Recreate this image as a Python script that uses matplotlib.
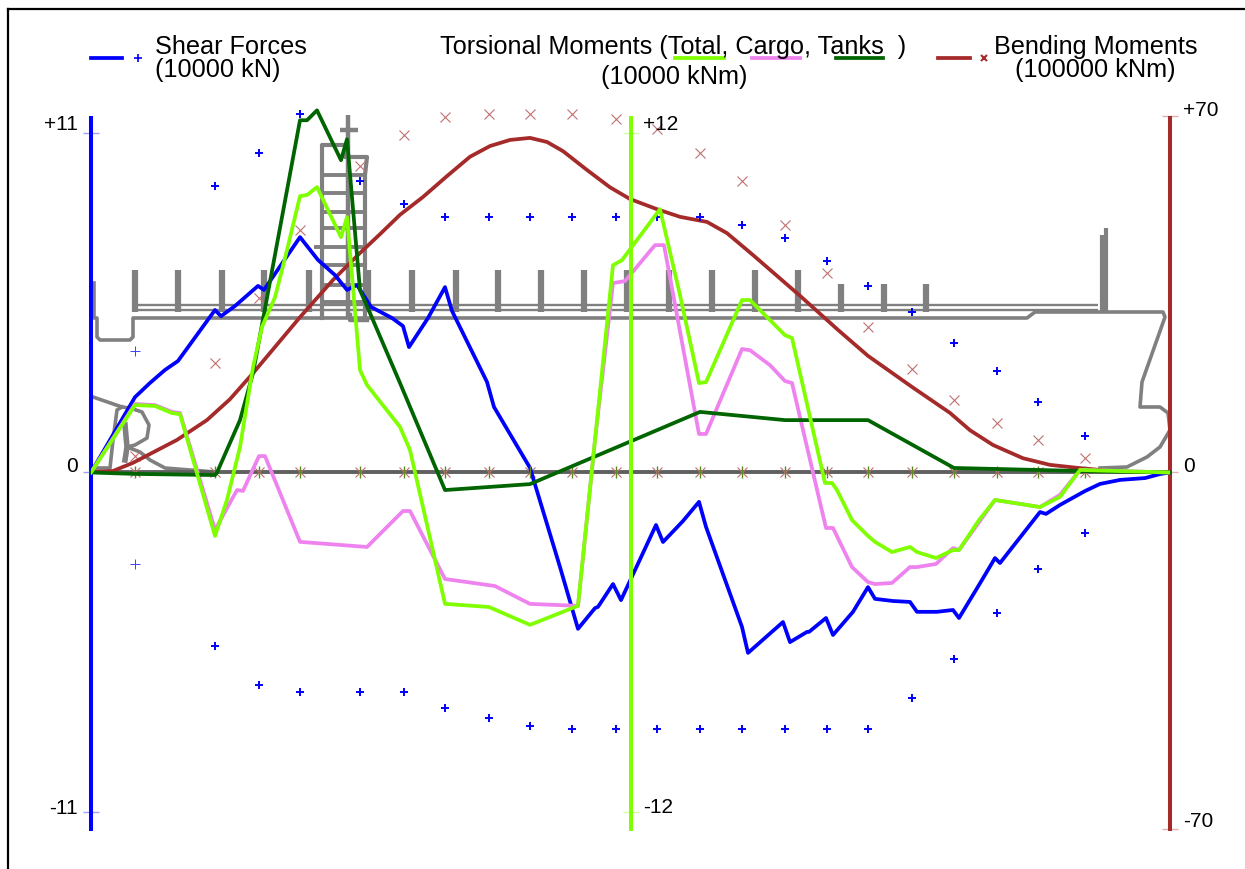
import matplotlib
matplotlib.use("Agg")
import matplotlib.pyplot as plt
from matplotlib.lines import Line2D

plt.rcParams['font.family'] = ['Liberation Sans', 'DejaVu Sans']

# position along the ship, stations where the limits are given
stations = [44, 124, 168, 209, 269, 313, 354, 398, 439, 481, 525, 566, 609, 651, 694, 736, 777, 821, 863, 906, 947, 994]

# shear forces (10000 kN)
sf_x = [0, 44, 59, 74, 87, 124, 130, 144, 167, 173, 209, 227, 244, 256, 266, 280, 301, 312, 318, 337, 354, 361, 396, 403,
        439, 469, 487, 504, 507, 522, 530, 545, 565, 572, 592, 608, 615, 651, 657, 692, 699, 716, 718, 735, 742, 762, 777, 784,
        802, 819, 826, 846, 862, 868, 888, 904, 909, 949, 955, 969, 994, 1009, 1029, 1054, 1069, 1079]
sf_y = [0, 2.44, 2.90, 3.32, 3.61, 5.26, 5.06, 5.39, 6.04, 5.91, 7.62, 6.88, 6.39, 5.91, 6.07, 5.36, 5.0, 4.74, 4.06, 5.0, 6.0, 5.23, 2.93, 2.12,
        0.15, -3.06, -5.06, -4.39, -4.35, -3.61, -4.13, -3.09, -1.70, -2.25, -1.57, -0.95, -1.76, -5.0, -5.84, -4.84, -5.49, -5.16, -5.16, -4.71, -5.26, -4.51, -3.71, -4.09,
        -4.16, -4.19, -4.51, -4.51, -4.45, -4.71, -3.64, -2.77, -2.93, -1.28, -1.34, -1.05, -0.60, -0.37, -0.24, -0.18, -0.05, 0]
sf_upper = [3.93, 9.27, 10.34, 11.60, 9.43, 8.69, 8.27, 8.27, 8.27, 8.27, 8.27, 8.27, 8.27, 8.01, 7.59, 6.84, 6.04, 5.19, 4.19, 3.28, 2.28, 1.18]
sf_lower = [-2.96, -5.61, -6.88, -7.10, -7.10, -7.10, -7.62, -7.94, -8.20, -8.30, -8.30, -8.30, -8.30, -8.30, -8.30, -8.30, -8.30, -7.30, -6.04, -4.55, -3.12, -1.96]

# torsional moments (10000 kNm)
total_x = [0, 44, 64, 81, 89, 124, 136, 149, 162, 171, 184, 196, 209, 216, 226, 250, 256, 269, 276, 309, 319, 354, 398, 439,
           487, 504, 522, 531, 569, 589, 608, 615, 651, 659, 694, 701, 734, 741, 746, 761, 777, 784, 801, 819, 826, 845, 862, 868, 888, 904, 949, 969, 989, 1079]
total_y = [0, 2.38, 2.35, 2.10, 2.06, -2.24, -0.97, 0.90, 3.72, 5.14, 6.19, 7.85, 9.76, 9.80, 10.08, 8.31, 9.02, 3.62, 3.09, 1.61, 0.79, -4.64, -4.75, -5.38,
           -4.71, 1.15, 7.32, 7.50, 9.30, 6.27, 3.16, 3.19, 6.09, 6.09, 4.85, 4.75, -0.37, -0.37, -0.62, -1.68, -2.24, -2.45, -2.81, -2.63, -2.81, -3.02, -2.74, -2.74, -1.68, -0.97, -1.22, -0.86, 0.09, 0]
cargo_x = [0, 44, 64, 81, 89, 124, 146, 152, 168, 174, 209, 276, 312, 319, 354, 404, 439, 487, 504, 522, 534, 564, 573, 608, 615,
           651, 659, 679, 694, 701, 735, 742, 761, 777, 784, 801, 819, 826, 845, 862, 868, 904, 949, 969, 989, 1079]
cargo_y = [0, 2.42, 2.38, 2.14, 2.10, -2.03, -0.62, -0.65, 0.58, 0.58, -2.45, -2.63, -1.36, -1.36, -3.76, -4.01, -4.64, -4.71, 1.15, 6.69, 6.76, 8.03, 8.03, 1.36, 1.36,
           4.36, 4.32, 3.79, 3.23, 3.16, -1.96, -1.96, -3.34, -3.87, -3.94, -3.90, -3.34, -3.34, -3.23, -2.67, -2.74, -0.97, -1.22, -0.79, 0.09, 0]
tanks_x = [0, 44, 124, 126, 149, 162, 209, 216, 226, 250, 256, 269, 279, 309, 354, 439, 609, 694, 777, 863, 994, 1079]
tanks_y = [0, -0.05, -0.09, 0, 1.85, 3.51, 12.44, 12.44, 12.79, 11.03, 11.77, 6.44, 5.63, 3.16, -0.62, -0.41, 2.14, 1.85, 1.85, 0.16, 0.05, 0]

# bending moments (100000 kNm)
bm_x = [0, 22, 42, 86, 116, 139, 162, 209, 242, 269, 289, 309, 332, 356, 379, 399, 419, 439, 456, 472, 496, 519, 539, 566, 589, 616, 636, 662,
        709, 747, 777, 821, 859, 879, 902, 932, 959, 987, 1009]
bm_y = [0.1, 0.3, 1.9, 6.4, 10.3, 14.4, 19.5, 30.5, 37.8, 43.1, 46.8, 50.6, 54.1, 58.2, 62.0, 64.1, 65.3, 65.7, 64.9, 63.1, 59.4, 56.0, 53.7, 51.7, 50.2, 49.2, 47.0, 42.7,
        34.7, 28.0, 22.9, 16.8, 11.7, 8.3, 5.4, 2.8, 1.5, 0.9, 0.5]
bm_upper = [3.24, 21.5, 34.3, 47.6, 60.2, 66.3, 69.8, 70.4, 70.4, 70.4, 69.4, 67.4, 62.7, 57.2, 48.6, 39.2, 28.6, 20.3, 14.2, 9.7, 6.4, 2.8]
zero_limit = [0] * len(stations)

# ship drawing behind the curves
hull_x = [3, 3, 6, 6, 9, 39, 42, 42, 936, 944, 1072, 1074, 1051, 1049, 1069, 1077, 1079, 1069, 1056, 1036, 1009]
hull_y = [189, 154, 154, 135, 132, 132, 135, 154, 154, 160, 160, 155, 90, 65, 65, 59, 42, 25, 15, 5, 4]
stern_x = [2, 31, 39, 51, 58, 56, 44, 36, 49, 59, 74, 124]
stern_y = [75, 65, 64, 60, 47, 34, 27, 25, 20, 12, 4, 0]
rudder_x = [31, 26, 22, 19, 0]
rudder_y = [65, 62, 32, 4, 4]
stock_x = [34, 36, 34]
stock_y = [47, 25, 12]
tall_posts = [44, 87, 131, 173, 218, 277, 321, 365, 407, 450, 493, 536, 578, 621, 664, 707]
short_posts = [750, 793, 835]
deck_strip = [166.5, 161.5]
house_floors = [297, 279, 260, 244, 225, 207, 187, 170]
house_x = [231, 231, 254, 254, 276, 274, 274]
house_y = [154, 327, 327, 315, 315, 297, 154]
foot_x = [259, 259, 276]
foot_y = [157, 152, 152]

fig = plt.figure(figsize=(12.45, 8.7), dpi=100)
W, H = 1245.0, 870.0

# frame of the screenshot, top and left only
fig.add_artist(Line2D([8 / W, 1], [1 - 9.5 / H, 1 - 9.5 / H], color='black', lw=1.6))
fig.add_artist(Line2D([8 / W, 8 / W], [0, 1 - 9.5 / H], color='black', lw=1.6))

rect = [91 / W, 1 - 830 / H, 1079 / W, 713 / H]

# ship axis
ax = fig.add_axes(rect)
ax.set_xlim(0, 1079)
ax.set_ylim(-357, 356)
ax.axis('off')
gray = '#808080'
ax.plot(hull_x, hull_y, color=gray, lw=2.6)
ax.plot(stern_x, stern_y, color=gray, lw=2.6)
ax.plot(rudder_x, rudder_y, color=gray, lw=2.6)
ax.plot(stock_x, stock_y, color=gray, lw=4)
ax.vlines(tall_posts, 160, 202, color=gray, lw=4.5)
ax.vlines(short_posts, 160, 188, color=gray, lw=4.5)
ax.hlines(deck_strip, 44, 1007, color=gray, lw=1.7)
ax.hlines(house_floors, 231, 274, color=gray, lw=2.8)
ax.hlines(225, 223, 231, color=gray, lw=2.8)
ax.plot(house_x, house_y, color=gray, lw=3)
ax.vlines(257, 154, 357, color=gray, lw=3.2, clip_on=False)
ax.hlines(342, 249, 267, color=gray, lw=3.2)
ax.plot(foot_x, foot_y, color=gray, lw=3.2)
ax.vlines([1011, 1015], 160, [237, 244], color=gray, lw=3)
ax.hlines(0, 0, 1079, color='#606060', lw=2.8)


def curve_axis(ylim, color, ticks):
    a = fig.add_axes(rect, frameon=True)
    a.patch.set_visible(False)
    a.set_xlim(0, 1079)
    a.set_ylim(*ylim)
    a.set_xticks([])
    for s in a.spines.values():
        s.set_visible(False)
    a.set_yticks(ticks)
    a.set_yticklabels([])
    a.tick_params(axis='y', direction='inout', length=12, width=1, color=color)
    return a


def show_spine(spine, color, low, high):
    spine.set_visible(True)
    spine.set_color(color)
    spine.set_linewidth(2.9)
    spine.set_capstyle('butt')
    spine.set_bounds(low, high)


# bending moments, right axis
ax_bm = curve_axis((-70, 70), '#e0b0b0', [-70, 0, 70])
ax_bm.yaxis.tick_right()
show_spine(ax_bm.spines['right'], '#a52a2a', -70.4, 70)
ax_bm.plot(stations, bm_upper, 'x', color='#c07070', ms=6.5, mew=0.8, clip_on=False)
ax_bm.plot(stations, zero_limit, 'x', color='#c07070', ms=6.5, mew=0.8)
ax_bm.plot(bm_x, bm_y, color='#a52a2a', lw=2.7)

# shear forces, left axis
ax_sf = curve_axis((-11.54, 11.54), '#a0a0ff', [-11, 0, 11])
show_spine(ax_sf.spines['left'], '#0000ff', -11.6, 11.54)
ax_sf.plot(stations[1:], sf_upper[1:], '+', color='#0000ff', ms=6, mew=1.4, clip_on=False)
ax_sf.plot(stations[1:], sf_lower[1:], '+', color='#0000ff', ms=6, mew=1.4)
ax_sf.plot(stations[:1], sf_upper[:1], '+', color='#4040ff', ms=7, mew=0.7)
ax_sf.plot(stations[:1], sf_lower[:1], '+', color='#4040ff', ms=7, mew=0.7)
ax_sf.plot(sf_x, sf_y, color='#0000ff', lw=2.7)

# torsional moments, centre axis
ax_tm = curve_axis((-12.59, 12.59), '#d0ffa0', [-12, 12])
ax_tm.spines['left'].set_position(('axes', 0.5))
show_spine(ax_tm.spines['left'], '#7fff00', -12.65, 12.59)
ax_tm.plot(stations, zero_limit, '|', color='#5a8a20', ms=9, mew=1)
ax_tm.plot(cargo_x, cargo_y, color='#ee82ee', lw=2.7)
ax_tm.plot(tanks_x, tanks_y, color='#006400', lw=2.7, clip_on=False)
ax_tm.plot(total_x, total_y, color='#7fff00', lw=2.7)

# axis labels, set a little off their ticks like in the original
tick_font = 15
fig.text(44 / W, 1 - 125 / H, '+11', fontsize=tick_font, va='center')
fig.text(78 / W, 1 - 467 / H, '0', fontsize=tick_font, va='center', ha='right')
fig.text(78 / W, 1 - 809 / H, '-11', fontsize=tick_font, va='center', ha='right')
fig.text(643 / W, 1 - 124 / H, '+12', fontsize=tick_font, va='center')
fig.text(643 / W, 1 - 808 / H, '-12', fontsize=tick_font, va='center')
fig.text(1183 / W, 1 - 110 / H, '+70', fontsize=tick_font, va='center')
fig.text(1183 / W, 1 - 467 / H, '0', fontsize=tick_font, va='center')
fig.text(1183 / W, 1 - 822 / H, '-70', fontsize=tick_font, va='center')

# legend drawn by hand, three groups side by side
legend_font = 18.2
fig.text(155 / W, 1 - 47 / H, 'Shear Forces', fontsize=legend_font, va='center')
fig.text(155 / W, 1 - 70 / H, '(10000 kN)', fontsize=legend_font, va='center')
fig.text(440 / W, 1 - 47 / H, 'Torsional Moments (Total, Cargo, Tanks  )', fontsize=legend_font, va='center')
fig.text(674 / W, 1 - 77 / H, '(10000 kNm)', fontsize=legend_font, va='center', ha='center')
fig.text(994 / W, 1 - 47 / H, 'Bending Moments', fontsize=legend_font, va='center')
fig.text(1095 / W, 1 - 70 / H, '(100000 kNm)', fontsize=legend_font, va='center', ha='center')

y_leg = 1 - 59 / H
for x0, x1, col in [(91, 122, '#0000ff'), (675, 724, '#7fff00'), (752, 800, '#ee82ee'), (836, 883, '#006400'), (938, 970, '#a52a2a')]:
    fig.add_artist(Line2D([x0 / W, x1 / W], [y_leg, y_leg], color=col, lw=2.7))
fig.add_artist(Line2D([138 / W], [y_leg], marker='+', color='#0000ff', ms=6, mew=1.2))
fig.add_artist(Line2D([984 / W], [y_leg], marker='x', color='#a52a2a', ms=5, mew=1.5))

plt.savefig('out.png', dpi=100)
